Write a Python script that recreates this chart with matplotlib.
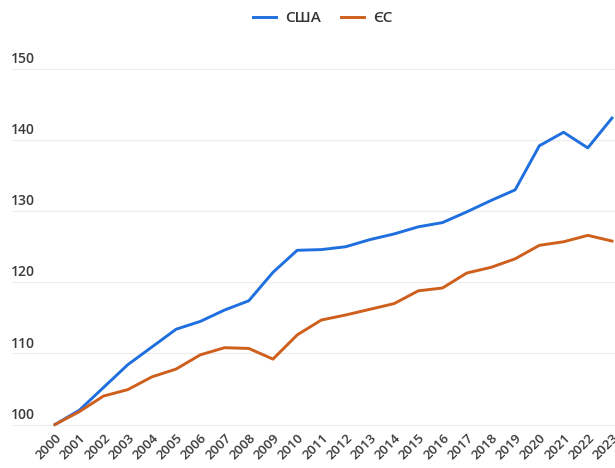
import matplotlib
matplotlib.use("Agg")
import matplotlib.pyplot as plt

years = list(range(2000, 2024))
usa = [100, 102.0, 105.2, 108.4, 110.9, 113.4, 114.5, 116.1, 117.4, 121.4, 124.5, 124.6,
       125.0, 126.0, 126.8, 127.8, 128.4, 129.9, 131.5, 133.0, 139.2, 141.1, 138.9, 143.1]
eu = [100, 101.8, 104.0, 104.9, 106.7, 107.8, 109.8, 110.8, 110.7, 109.2, 112.6, 114.7,
      115.4, 116.2, 117.0, 118.8, 119.2, 121.3, 122.1, 123.3, 125.2, 125.7, 126.6, 125.8]
yticks = [100, 110, 120, 130, 140, 150]
labels = ["США", "ЄС"]
colors = ["#1f6fdf", "#cf5f1c"]

plt.rcParams['font.family'] = ['Open Sans', 'DejaVu Sans']
plt.rcParams['font.weight'] = 'semibold'

fig = plt.figure(figsize=(6.15, 4.68), dpi=100)
ax = fig.add_axes([12/615, 41/468, 603/615, 362/468])

ax.plot(years, usa, color=colors[0], lw=2.1, label=labels[0], solid_joinstyle='round')
ax.plot(years, eu, color=colors[1], lw=2.1, label=labels[1], solid_joinstyle='round')

ax.set_xlim(2000 - 43/24.2, 2023 + 3/24.2)
ax.set_ylim(99.65, 150.56)

for s in ax.spines.values():
    s.set_visible(False)

ax.set_yticks(yticks)
ax.set_yticklabels([])
ax.tick_params(axis='y', length=0)
ax.grid(axis='y', color='#ececec', lw=0.8)
ax.set_axisbelow(True)
for v in yticks:
    ax.text(-0.002, v + 0.4, str(v), transform=ax.get_yaxis_transform(),
            ha='left', va='bottom', fontsize=10, color='#3a3a3a', fontweight='semibold')

ax.set_xticks(years)
ax.set_xticklabels([str(y) for y in years], rotation=45, ha='right', va='top',
                   rotation_mode='anchor', fontsize=9.5, color='#3a3a3a',
                   fontweight='semibold')
ax.tick_params(axis='x', length=0, pad=3)

fig.legend(loc='upper center', bbox_to_anchor=(0.525, 1.005), ncol=2, frameon=False,
           fontsize=11, handlelength=1.5, columnspacing=1.3, handletextpad=0.6,
           labelcolor='#333333', prop={'weight': 'semibold', 'size': 11})

fig.savefig("out.png", dpi=100, facecolor='white')
